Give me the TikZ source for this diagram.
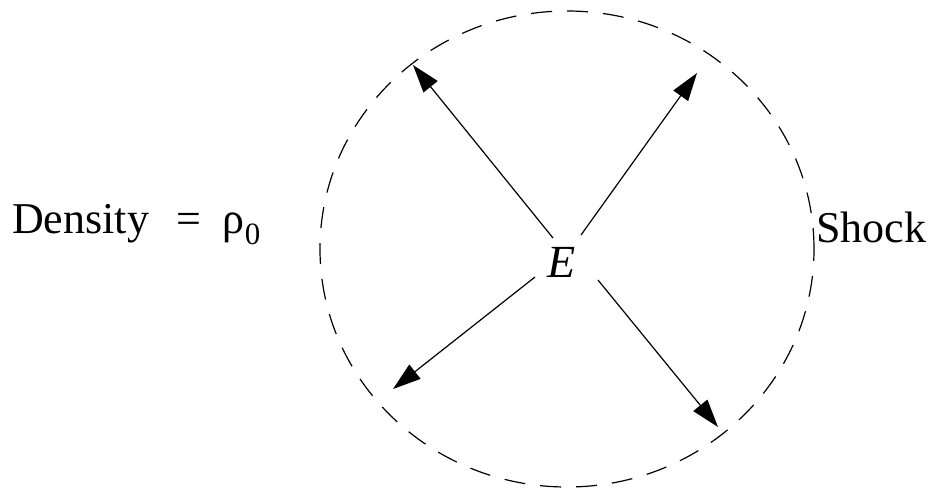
\documentclass[tikz,border=0pt]{standalone}
\usepackage{fontspec}
\setmainfont{Liberation Serif}
\usetikzlibrary{arrows.meta}
\tikzset{
  lbl/.style={anchor=base west, inner sep=0pt, font=\fontsize{44}{48}\selectfont},
  ray/.style={line width=1.2pt, -{Triangle[length=28pt, width=18pt]}},
  shockline/.style={line width=1.2pt, dash pattern=on 21pt off 15pt}
}
\begin{document}
\begin{tikzpicture}[x=1pt, y=-1pt]
\useasboundingbox (0,0) rectangle (933,488);
\draw[shockline] (567,249) ellipse [x radius=247pt, y radius=238pt];
\node[lbl] (dens) at (12,233) {Density\hspace{27pt}=\hspace{22pt}ρ\raisebox{-11pt}{\fontsize{31}{31}\selectfont 0}};
\node[lbl] (shock) at (816,242) {Shock};
\node[anchor=base, inner sep=0pt, font=\fontsize{46}{48}\selectfont\itshape] (E) at (562,277) {E};
\coordinate (s1) at (553,238);
\coordinate (s2) at (581,235);
\coordinate (s3) at (535,277);
\coordinate (s4) at (598,280);
\coordinate (t1) at (413,65);
\coordinate (t2) at (697,73);
\coordinate (t3) at (393,389);
\coordinate (t4) at (718,427);
\draw[ray] (s1) -- (t1);
\draw[ray] (s2) -- (t2);
\draw[ray] (s3) -- (t3);
\draw[ray] (s4) -- (t4);
\end{tikzpicture}
\end{document}
